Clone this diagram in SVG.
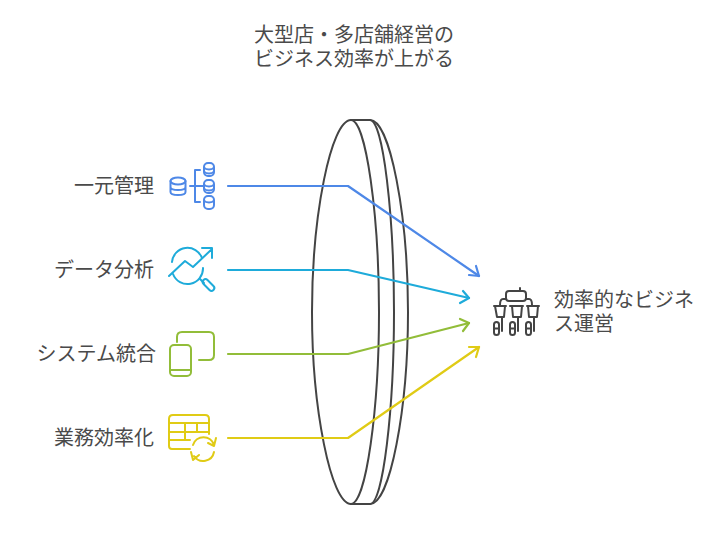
<svg xmlns="http://www.w3.org/2000/svg" width="720" height="552" viewBox="0 0 720 552">
<style>
text{font-family:"Liberation Sans","Noto Sans CJK JP",sans-serif;font-size:20px;fill:#4a4a4a}
.l{fill:none;stroke:#444;stroke-width:2;stroke-linecap:round;stroke-linejoin:round}
.c{fill:none;stroke-width:2.200;stroke-linecap:round;stroke-linejoin:round}
.i{fill:none;stroke-width:2;stroke-linecap:round;stroke-linejoin:round}
.b{stroke:#4e88e7}.t{stroke:#1eabda}.g{stroke:#92bd39}.y{stroke:#e0cb15}.k{stroke:#444}
</style>
<rect width="720" height="552" fill="#fff"/>
<g id="title"><text x="354" y="42" text-anchor="middle">大型店・多店舗経営の</text><text x="354" y="66" text-anchor="middle">ビジネス効率が上がる</text></g>
<g id="lens">
<path class="l" d="M351 120C331 120 312 215 312 312C312 409 331 504 351 504C366 504 379 409 379 312C379 215 366 120 351 120Z"/>
<path class="l" d="M351 120H370C383 120 394 215 394 312C394 409 383 504 370 504H351"/>
<path class="l" d="M370 120C390 120 408 215 408 312C408 409 390 504 370 504"/>
</g>
<g id="connectors">
<path class="c b" d="M228 186H348L479 276"/><path class="c b" d="M469 275L479 276L476 266"/>
<path class="c t" d="M228 270H348L469 298"/><path class="c t" d="M460 303L469 298L463 291"/>
<path class="c g" d="M228 354H348L469 323"/><path class="c g" d="M463 331L469 323L460 319"/>
<path class="c y" d="M228 438H348L479 347"/><path class="c y" d="M476 357L479 347L469 347"/>
</g>
<g id="node1"><text x="154" y="193" text-anchor="end">一元管理</text>
<g class="i b"><ellipse cx="178" cy="181" rx="7.500" ry="3.500"/><path d="M170.500 181V192C170.500 196 185.500 196 185.500 192V181M170.500 187C170.500 191 185.500 191 185.500 187"/>
<path d="M190 186H204M200 170H195V202H200"/>
<rect x="204" y="163" width="10" height="13" rx="4"/><path d="M204 167.500C206 170 212 170 214 167.500M204 171.500C206 174 212 174 214 171.500"/>
<rect x="204" y="180" width="10" height="13" rx="4"/><path d="M204 184.500C206 187 212 187 214 184.500M204 188.500C206 191 212 191 214 188.500"/>
<rect x="204" y="196" width="10" height="13" rx="4"/><path d="M204 200.500C206 203 212 203 214 200.500"/></g></g>
<g id="node2"><text x="154" y="277" text-anchor="end">データ分析</text>
<g class="i t"><path d="M172 262A15.500 15.500 0 0 1 202 258M203 268A15.500 15.500 0 0 1 173 274"/><path d="M169 276L185 261L193 267L212 249M202 248H212V258"/><path d="M200 279L204 283"/><rect x="-2.800" y="-7" width="5.600" height="14" rx="2.800" transform="translate(208.500 285) rotate(-45)"/></g></g>
<g id="node3"><text x="156" y="361" text-anchor="end">システム統合</text>
<g class="i g"><path d="M177 342V337Q177 332 182 332H209Q214 332 214 337V355Q214 360 209 360H199"/><rect x="170" y="345" width="21" height="31" rx="4"/><path d="M170 370H191"/></g></g>
<g id="node4"><text x="154" y="445" text-anchor="end">業務効率化</text>
<g class="i y"><path d="M190 449H172Q169 449 169 446V419Q169 415 173 415H205Q209 415 209 419V434"/><path d="M169 423H209M169 432H209M169 440H190M185 423V440M197 423V432"/><path d="M193 445A11 11 0 0 1 214 445M216 438L214 446L208 443M214 452A11 11 0 0 1 194 456M191 452L193 460L199 455"/></g></g>
<g id="node5"><text x="554" y="307">効率的なビジネ</text><text x="554" y="331">ス運営</text>
<g class="i k"><rect x="506" y="291" width="20" height="10" rx="3"/><path d="M520 288V291M506 299H503Q500 299 500 305M526 299H529Q532 299 532 305"/>
<path d="M494 306H506M510 306H523M527 306H539"/><path d="M495 306L497 317H504L505 306M512 306L513 317H521L522 306M528 306L529 317H537L538 306"/>
<path d="M502 317V331M518 317V331M534 317V331"/>
<rect x="494" y="322" width="5" height="13" rx="2.500"/><rect x="510" y="322" width="5" height="13" rx="2.500"/><rect x="526" y="322" width="5" height="13" rx="2.500"/>
<path d="M494 328.500H499M510 328.500H515M526 328.500H531"/></g></g>
</svg>
